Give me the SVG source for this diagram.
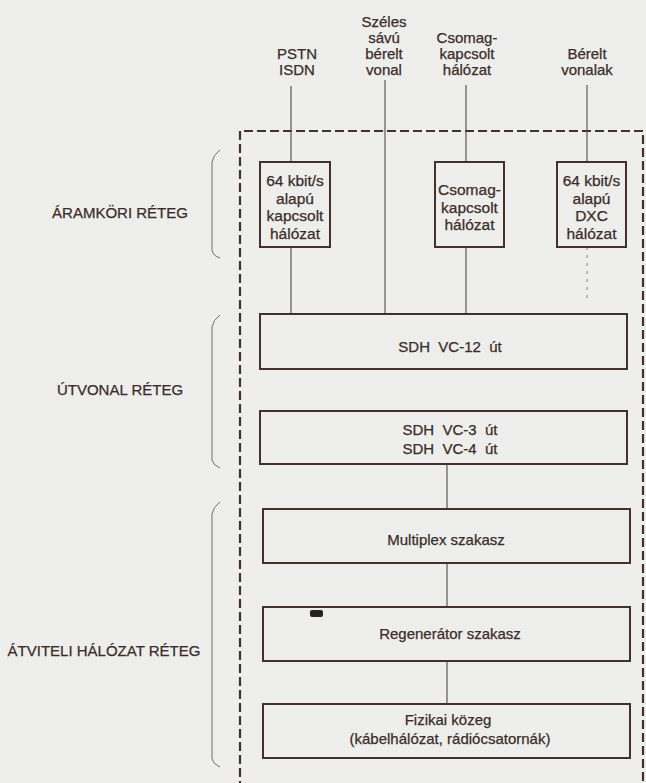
<svg xmlns="http://www.w3.org/2000/svg" width="646" height="783" viewBox="0 0 646 783">
<style>
text{font-family:"Liberation Sans",Arial,sans-serif;font-size:15px;fill:#3a2c28;stroke:#3a2c28;stroke-width:0.25;text-anchor:middle}
.lbl{font-size:15px}
.bx{font-size:15.5px}
.box{fill:none;stroke:#45312c;stroke-width:2}
.ln{stroke:#5a4843;stroke-width:1.1;fill:none}
.br{stroke:#7a6a65;stroke-width:1;fill:none}
.frame{fill:none;stroke:#45312c;stroke-width:2.2;stroke-dasharray:9,4}
</style>
<rect width="646" height="783" fill="#eeeeec"/>
<path class="frame" d="M240,790 V131 H643 V790"/>
<g id="connectors">
<path class="ln" d="M291,86 V162 M291,247 V314"/>
<path class="ln" d="M385,80 V314"/>
<path class="ln" d="M466,85 V162 M466,247 V314"/>
<path class="ln" d="M587,85 V162"/>
<path class="ln" d="M587,247 V300" stroke-dasharray="3,5" opacity="0.6"/>
<path class="ln" d="M447,464 V509 M447,563 V607 M447,661 V704"/>
</g>
<g id="top-labels">
<text x="297" y="59">PSTN</text>
<text x="297" y="75">ISDN</text>
<text x="384" y="27">Széles</text>
<text x="384" y="43">sávú</text>
<text x="384" y="59">bérelt</text>
<text x="384" y="75">vonal</text>
<text x="467" y="43">Csomag-</text>
<text x="467" y="59">kapcsolt</text>
<text x="467" y="75">hálózat</text>
<text x="587" y="59">Bérelt</text>
<text x="587" y="75">vonalak</text>
</g>
<g id="box-64k">
<rect class="box" x="260" y="162" width="70" height="85"/>
<text class="bx" x="295" y="186">64 kbit/s</text>
<text class="bx" x="295" y="203.5">alapú</text>
<text class="bx" x="295" y="221">kapcsolt</text>
<text class="bx" x="295" y="238.5">hálózat</text>
</g>
<g id="box-csomag">
<rect class="box" x="435" y="162" width="69" height="85"/>
<text class="bx" x="469.5" y="195">Csomag-</text>
<text class="bx" x="469.5" y="212.5">kapcsolt</text>
<text class="bx" x="469.5" y="230">hálózat</text>
</g>
<g id="box-dxc">
<rect class="box" x="557" y="162" width="69" height="85"/>
<text class="bx" x="591.5" y="186">64 kbit/s</text>
<text class="bx" x="591.5" y="203.5">alapú</text>
<text class="bx" x="591.5" y="221">DXC</text>
<text class="bx" x="591.5" y="238.5">hálózat</text>
</g>
<g id="box-vc12">
<rect class="box" x="260" y="314" width="367" height="55"/>
<text x="450" y="352" xml:space="preserve">SDH  VC-12  út</text>
</g>
<g id="box-vc3">
<rect class="box" x="260" y="411" width="367" height="53"/>
<text x="450" y="435" xml:space="preserve">SDH  VC-3  út</text>
<text x="450" y="454" xml:space="preserve">SDH  VC-4  út</text>
</g>
<g id="box-multiplex">
<rect class="box" x="263" y="509" width="367" height="54"/>
<text x="446" y="545">Multiplex szakasz</text>
</g>
<g id="box-regenerator">
<rect class="box" x="263" y="607" width="367" height="54"/>
<text x="450" y="639">Regenerátor szakasz</text>
<rect x="310" y="610" width="13" height="7" rx="2" fill="#2a2220"/>
</g>
<g id="box-fizikai">
<rect class="box" x="263" y="704" width="367" height="54"/>
<text x="448" y="725">Fizikai közeg</text>
<text x="450" y="744">(kábelhálózat, rádiócsatornák)</text>
</g>
<g id="layer-aramkori">
<path class="br" d="M220,150 Q213,155 212,162 V250 Q213,256 220,258"/>
<text class="lbl" x="120" y="218">ÁRAMKÖRI RÉTEG</text>
</g>
<g id="layer-utvonal">
<path class="br" d="M220,315 Q213,320 212,327 V460 Q213,465 220,468"/>
<text class="lbl" x="120" y="395">ÚTVONAL RÉTEG</text>
</g>
<g id="layer-atviteli">
<path class="br" d="M220,502 Q213,507 212,514 V759 Q213,764 220,767"/>
<text class="lbl" x="104" y="656">ÁTVITELI HÁLÓZAT RÉTEG</text>
</g>
</svg>
